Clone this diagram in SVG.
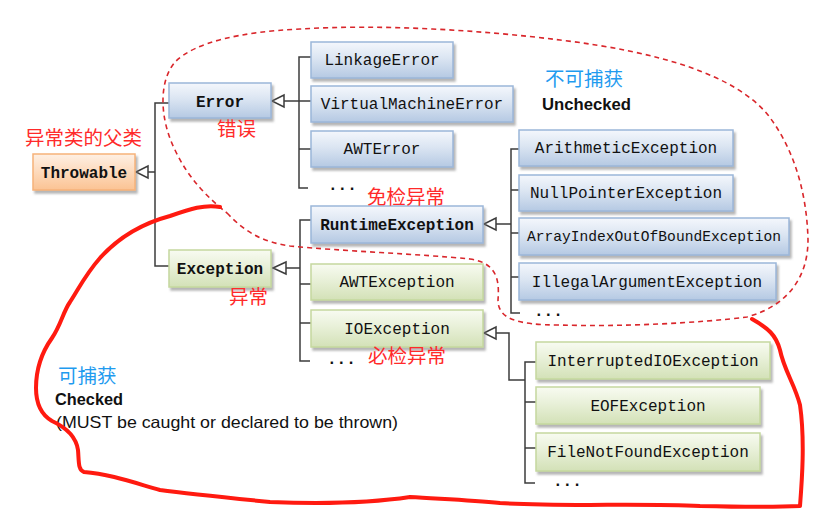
<svg xmlns="http://www.w3.org/2000/svg" width="839" height="512" viewBox="0 0 839 512">
<defs>
<linearGradient id="gBlue" x1="0" y1="0" x2="0" y2="1">
<stop offset="0" stop-color="#f4f7fc"/><stop offset="0.45" stop-color="#dbe5f2"/><stop offset="1" stop-color="#b5c9e3"/>
</linearGradient>
<linearGradient id="gGreen" x1="0" y1="0" x2="0" y2="1">
<stop offset="0" stop-color="#f8fbf1"/><stop offset="0.45" stop-color="#e8f0d8"/><stop offset="1" stop-color="#d3e1b7"/>
</linearGradient>
<linearGradient id="gOrange" x1="0" y1="0" x2="0" y2="1">
<stop offset="0" stop-color="#fef0e4"/><stop offset="0.45" stop-color="#fddcc0"/><stop offset="1" stop-color="#fbc393"/>
</linearGradient>
<filter id="sh" x="-10%" y="-20%" width="130%" height="160%">
<feDropShadow dx="2" dy="3" stdDeviation="1" flood-color="#7a7a7a" flood-opacity="0.55"/>
</filter>
<style>
.bb{fill:url(#gBlue);stroke:#9bb6d9;stroke-width:1.5;filter:url(#sh)}
.gb{fill:url(#gGreen);stroke:#c5d89e;stroke-width:1.5;filter:url(#sh)}
.ob{fill:url(#gOrange);stroke:#f6b27a;stroke-width:1.5;filter:url(#sh)}
.t{font-family:"Liberation Mono","DejaVu Sans Mono",monospace;font-size:16px;fill:#111;text-anchor:middle}
.tb{font-weight:bold}
.dots{font-family:"Liberation Mono",monospace;font-size:16px;font-weight:bold;fill:#111}
.c{fill:none;stroke:#3c3c3c;stroke-width:1.5}
.ah{fill:#fff;stroke:#3c3c3c;stroke-width:1.5;stroke-linejoin:miter}
.red{font-family:"Noto Sans CJK SC","Noto Sans",sans-serif;font-size:19.5px;fill:#ff2a2a}
.blue{font-family:"Noto Sans CJK SC","Noto Sans",sans-serif;font-size:19.5px;fill:#1f9bef}
.en{font-family:"Liberation Sans","Noto Sans",sans-serif;fill:#111}
</style>
</defs>
<rect width="839" height="512" fill="#fff"/>

<g id="connectors">
<polygon class="ah" points="136,172 148,166 148,178"/>
<path class="c" d="M148,172H155M169,103H155V266H169"/>
<polygon class="ah" points="272,101 284,95 284,107"/>
<path class="c" d="M284,101H311M311,57H299V188H308M299,149H311"/>
<polygon class="ah" points="273,268 286,262 286,274"/>
<path class="c" d="M286,268H300M311,220H300V361H310M300,284H311M300,323H311"/>
<polygon class="ah" points="484,224 496,218 496,230"/>
<path class="c" d="M496,224H511M519,149H511V313H520M511,190H519M511,233H519M511,277H519"/>
<polygon class="ah" points="484,333 496,327 496,339"/>
<path class="c" d="M496,333H509V380H525M536,362H525V483H535M525,402H536M525,448H536"/>
</g>

<g id="throwable"><rect class="ob" x="33" y="154" width="102" height="36"/><text class="t tb" x="84" y="178">Throwable</text></g>
<g id="error"><rect class="bb" x="169" y="83" width="102" height="35"/><text class="t tb" x="220" y="107">Error</text></g>
<g id="exception"><rect class="gb" x="169" y="250" width="102" height="37"/><text class="t tb" x="220" y="274">Exception</text></g>

<g id="linkageError"><rect class="bb" x="311" y="42" width="142" height="36"/><text class="t" x="382" y="65">LinkageError</text></g>
<g id="virtualMachineError"><rect class="bb" x="311" y="86" width="202" height="36"/><text class="t" x="412" y="109">VirtualMachineError</text></g>
<g id="awtError"><rect class="bb" x="311" y="131" width="142" height="36"/><text class="t" x="382" y="154">AWTError</text></g>
<g id="errorMore"><text class="dots" x="328" y="190">...</text></g>

<g id="runtimeException"><rect class="bb" x="311" y="206" width="172" height="37"/><text class="t tb" x="397" y="230">RuntimeException</text></g>
<g id="awtException"><rect class="gb" x="311" y="264" width="172" height="36"/><text class="t" x="397" y="287">AWTException</text></g>
<g id="ioException"><rect class="gb" x="311" y="310" width="172" height="37"/><text class="t" x="397" y="334">IOException</text></g>
<g id="exceptionMore"><text class="dots" x="327" y="364">...</text></g>

<g id="arithmeticException"><rect class="bb" x="519" y="130" width="214" height="36"/><text class="t" x="626" y="153">ArithmeticException</text></g>
<g id="nullPointerException"><rect class="bb" x="519" y="175" width="214" height="36"/><text class="t" x="626" y="198">NullPointerException</text></g>
<g id="arrayIndexOutOfBoundException"><rect class="bb" x="519" y="218" width="270" height="37"/><text class="t" x="654" y="241" style="font-size:14.6px">ArrayIndexOutOfBoundException</text></g>
<g id="illegalArgumentException"><rect class="bb" x="519" y="263" width="257" height="37"/><text class="t" x="647" y="287">IllegalArgumentException</text></g>
<g id="runtimeMore"><text class="dots" x="534" y="316">...</text></g>

<g id="interruptedIOException"><rect class="gb" x="536" y="342" width="234" height="37"/><text class="t" x="653" y="366">InterruptedIOException</text></g>
<g id="eofException"><rect class="gb" x="536" y="387" width="224" height="37"/><text class="t" x="648" y="411">EOFException</text></g>
<g id="fileNotFoundException"><rect class="gb" x="536" y="433" width="224" height="38"/><text class="t" x="648" y="457">FileNotFoundException</text></g>
<g id="ioMore"><text class="dots" x="553" y="486">...</text></g>

<g id="labels">
<text class="red" x="25" y="145">异常类的父类</text>
<text class="red" x="217" y="136">错误</text>
<text class="red" x="229" y="304">异常</text>
<text class="red" x="367" y="204">免检异常</text>
<text class="red" x="368" y="363">必检异常</text>
<text class="blue" x="545" y="86">不可捕获</text>
<text class="en" x="542" y="110" font-size="16.5" font-weight="bold" textLength="89" lengthAdjust="spacingAndGlyphs">Unchecked</text>
<text class="blue" x="58" y="383">可捕获</text>
<text class="en" x="55" y="405" font-size="16.5" font-weight="bold" textLength="68" lengthAdjust="spacingAndGlyphs">Checked</text>
<text class="en" x="56" y="428" font-size="16.5" textLength="342" lengthAdjust="spacingAndGlyphs">(MUST be caught or declared to be thrown)</text>
</g>

<g id="regions">
<path fill="none" stroke="#d9262b" stroke-width="1.6" stroke-dasharray="5,4" d="M227,213 C245,232 262,242 290,246 C340,251 420,254 470,259 C500,263 499,285 498,300 C498,318 515,325 560,325 C620,327 700,323 747,317 C790,305 808,275 808,240 C807,195 795,150 768,115 C735,75 660,52 560,40 C480,30 380,24 300,29 C240,32 195,42 175,62 C158,82 160,120 175,150 C188,178 208,198 227,213 Z"/>
<path fill="none" stroke="#ff1a10" stroke-width="4" stroke-linejoin="round" stroke-linecap="round" d="M220,207 C205,204 190,209 170,216 C140,224 118,238 100,258 C85,275 78,290 70,302 C63,312 61,325 52,338 C42,352 36,370 36,388 C36,402 40,414 52,421 C65,427 76,436 78,450 C79,462 78,470 84,472 C110,474 135,483 160,490 C190,494 230,498 270,502 C320,504 370,503 410,497 C440,499 470,500 500,503 C560,507 640,503 700,506 C740,507 780,507 800,506 C802,480 805,440 800,405 C795,385 784,370 780,350 C776,335 768,328 752,319"/>
</g>
</svg>
